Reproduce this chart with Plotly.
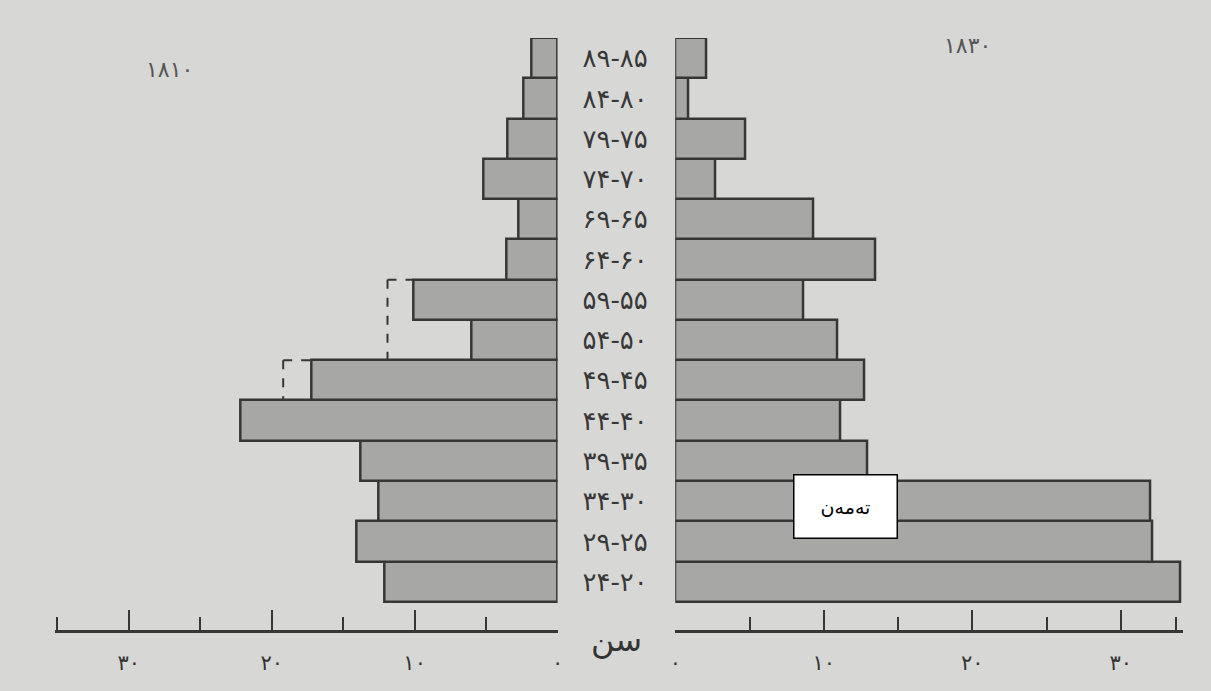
import plotly.graph_objects as go

# age groups, bottom (20-24) to top (85-89), Persian digits as printed
age_groups = ["۲۴-۲۰", "۲۹-۲۵", "۳۴-۳۰", "۳۹-۳۵", "۴۴-۴۰", "۴۹-۴۵", "۵۴-۵۰",
              "۵۹-۵۵", "۶۴-۶۰", "۶۹-۶۵", "۷۴-۷۰", "۷۹-۷۵", "۸۴-۸۰", "۸۹-۸۵"]
rows = list(range(len(age_groups)))

# 1810 (left side) and 1830 (right side)
pop_1810 = [12.1, 14.1, 12.5, 13.8, 22.2, 17.2, 6.0, 10.1, 3.6, 2.7, 5.2, 3.5, 2.4, 1.8]
pop_1830 = [34.0, 32.1, 32.0, 12.9, 11.1, 12.7, 10.9, 8.6, 13.5, 9.3, 2.7, 4.7, 0.9, 2.1]

# dashed outlines on the 1810 side (row index, value)
dash_rows = [7, 5]
dash_values = [11.9, 19.2]
dash_drop = [2, 1]  # how many rows the dashed line runs down

tick_vals = [0, 10, 20, 30]
tick_text = ["۰", "۱۰", "۲۰", "۳۰"]

bar_fill = "#a7a7a5"
ink = "#363636"
paper = "#d7d7d5"

fig = go.Figure()
fig.add_trace(go.Bar(x=pop_1810, y=rows, orientation="h", xaxis="x", yaxis="y",
                     width=1, marker=dict(color=bar_fill, line=dict(color=ink, width=2.5)),
                     showlegend=False))
fig.add_trace(go.Bar(x=pop_1830, y=rows, orientation="h", xaxis="x2", yaxis="y2",
                     width=1, marker=dict(color=bar_fill, line=dict(color=ink, width=2.5)),
                     showlegend=False))

# dashed lines
for r, v, d in zip(dash_rows, dash_values, dash_drop):
    top = r + 0.5
    fig.add_shape(type="line", xref="x", yref="y", x0=v, x1=pop_1810[r], y0=top, y1=top,
                  line=dict(color=ink, width=2, dash="dash"))
    fig.add_shape(type="line", xref="x", yref="y", x0=v, x1=v, y0=top, y1=top - d,
                  line=dict(color=ink, width=2, dash="dash"))


def ruler(minor_vals):
    return dict(showline=True, linecolor=ink, linewidth=2.5, ticks="inside",
                ticklen=20, tickwidth=2, tickcolor=ink, showgrid=False, zeroline=False,
                tickvals=tick_vals, ticktext=tick_text, ticklabelstandoff=12,
                tickfont=dict(family="DejaVu Sans", size=21, color="#333"),
                minor=dict(ticks="inside", ticklen=13, tickwidth=2, tickcolor=ink,
                           tickvals=minor_vals, showgrid=False))


def note(text, x, y, size, color, **kw):
    return dict(text=text, xref="paper", yref="paper", x=x, y=y, xanchor="center",
                yanchor="middle", showarrow=False,
                font=dict(family="DejaVu Sans", size=size, color=color), **kw)


fig.update_layout(
    width=1211, height=691,
    margin=dict(l=0, r=0, t=38, b=61),
    paper_bgcolor=paper, plot_bgcolor=paper,
    bargap=0,
    xaxis=dict(domain=[0.0405, 0.46], range=[35.2, 0], anchor="y",
               **ruler([5, 15, 25, 35])),
    xaxis2=dict(domain=[0.5582, 0.9818], range=[0, 34.2], anchor="y2",
                **ruler([5, 15, 25, 33.7])),
    yaxis=dict(domain=[0, 1], range=[-1.2, 13.5], anchor="x", side="right",
               tickvals=rows, ticktext=age_groups, ticks="", showline=False,
               showgrid=False, zeroline=False, ticklabelstandoff=24,
               tickfont=dict(family="DejaVu Sans", size=26, color="#383838")),
    yaxis2=dict(domain=[0, 1], range=[-1.2, 13.5], anchor="x2", matches="y",
                showticklabels=False, showline=False, showgrid=False, zeroline=False),
    annotations=[
        note("سن", 0.509, -0.017, 32, "#333"),
        note("۱۸۱۰", 0.136, 0.946, 22, "#555"),
        note("۱۸۳۰", 0.802, 0.988, 22, "#555"),
        note("تەمەن", 0.700, 0.208, 19, "black", width=98, height=58,
             bgcolor="white", bordercolor="black", borderwidth=1.5, borderpad=2),
    ],
)

fig.write_html("out.html", config={"displayModeBar": False},
               post_script="document.body.style.margin='0';"
                           "Plotly.relayout(document.getElementById('{plot_id}'),"
                           "{width: 1211, height: 691});")
